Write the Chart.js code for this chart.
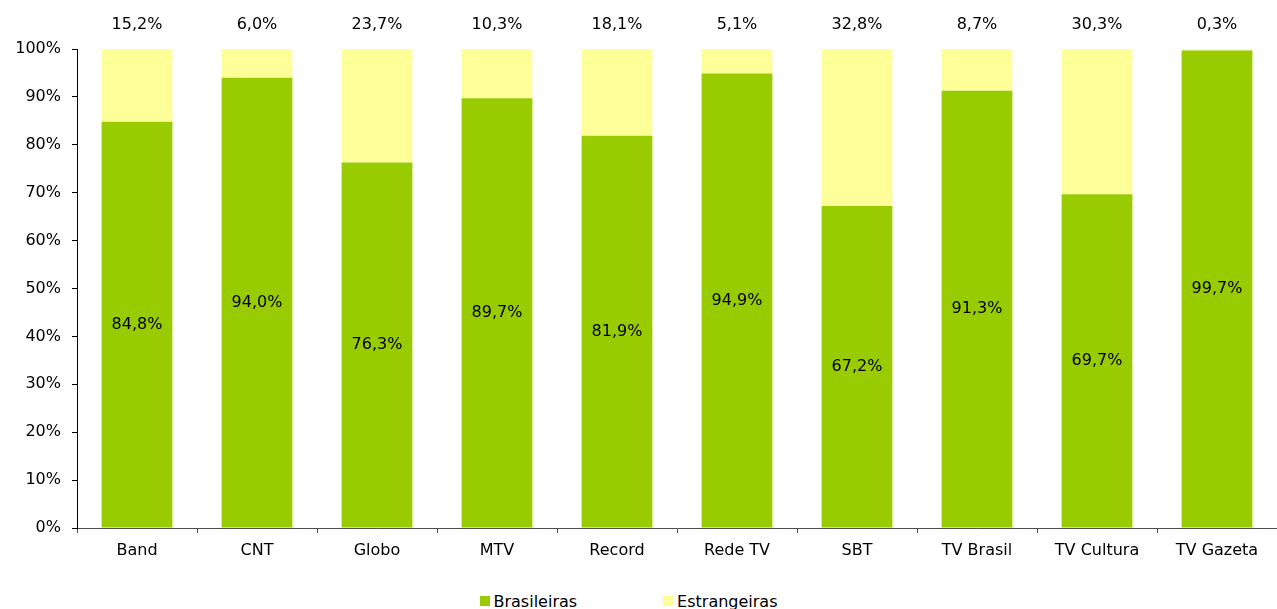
<!DOCTYPE html>
<html>
<head>
  <title>Brasileiras x Estrangeiras</title>
  <script src="https://cdn.jsdelivr.net/npm/chart.js"></script>
  <style>
    html, body {
      margin: 0;
      padding: 0;
      background: #fff;
      overflow: hidden;
    }
    #wrap {
      width: 1277px;
      height: 585px;
      position: relative;
    }
    #legend {
      width: 1277px;
      height: 32px;
      display: flex;
      justify-content: center;
      align-items: center;
      gap: 86px;
      padding-right: 20px;
      box-sizing: border-box;
      font-family: "DejaVu Sans", Verdana, sans-serif;
      font-size: 16px;
      color: #000;
    }
    .item {
      display: flex;
      align-items: center;
    }
    .box {
      width: 10px;
      height: 10px;
      margin-right: 4px;
    }
  </style>
</head>
<body>
  <div id="wrap"><canvas id="chart"></canvas></div>
  <div id="legend"></div>

  <script>
    var categories = ["Band", "CNT", "Globo", "MTV", "Record", "Rede TV", "SBT", "TV Brasil", "TV Cultura", "TV Gazeta"];
    var brasileiras = [84.8, 94.0, 76.3, 89.7, 81.9, 94.9, 67.2, 91.3, 69.7, 99.7];
    var estrangeiras = [15.2, 6.0, 23.7, 10.3, 18.1, 5.1, 32.8, 8.7, 30.3, 0.3];
    var seriesNames = ["Brasileiras", "Estrangeiras"];
    var seriesColors = ["#99CC00", "#FFFF99"];
    var yTicks = [0, 10, 20, 30, 40, 50, 60, 70, 80, 90, 100];

    function pct(v) {
      return v.toFixed(1).replace(".", ",") + "%";
    }

    Chart.defaults.font.family = "'DejaVu Sans', Verdana, sans-serif";
    Chart.defaults.font.size = 16;
    Chart.defaults.color = "#000";

    // rótulos dos valores
    var valueLabels = {
      id: "valueLabels",
      afterDatasetsDraw: function(chart) {
        var ctx = chart.ctx;
        ctx.save();
        ctx.font = "16px 'DejaVu Sans', Verdana, sans-serif";
        ctx.fillStyle = "#000";
        ctx.textAlign = "center";
        ctx.textBaseline = "middle";
        chart.getDatasetMeta(0).data.forEach(function(bar, i) {
          ctx.fillText(pct(brasileiras[i]), bar.x, (bar.y + bar.base) / 2);
        });
        chart.getDatasetMeta(1).data.forEach(function(bar, i) {
          ctx.fillText(pct(estrangeiras[i]), bar.x, chart.chartArea.top - 24);
        });
        ctx.restore();
      }
    };

    var ctx = document.getElementById("chart").getContext("2d");
    var chart = new Chart(ctx, {
      type: "bar",
      data: {
        labels: categories,
        datasets: [{
          label: seriesNames[0],
          data: brasileiras,
          backgroundColor: seriesColors[0],
          borderWidth: 0,
          barPercentage: 0.59,
          categoryPercentage: 1
        }, {
          label: seriesNames[1],
          data: estrangeiras,
          backgroundColor: seriesColors[1],
          borderWidth: 0,
          barPercentage: 0.59,
          categoryPercentage: 1
        }]
      },
      options: {
        responsive: true,
        maintainAspectRatio: false,
        animation: false,
        layout: {
          padding: { top: 49, left: 0, right: 0, bottom: 0 }
        },
        plugins: {
          legend: { display: false },
          tooltip: { enabled: false }
        },
        scales: {
          x: {
            stacked: true,
            afterFit: function(scale) { scale.height = 57; },
            grid: {
              offset: true,
              drawOnChartArea: false,
              tickLength: 5,
              color: "#4d4d4d"
            },
            border: { color: "#4d4d4d" },
            ticks: { padding: 8 }
          },
          y: {
            stacked: true,
            min: 0,
            max: 100,
            afterFit: function(scale) { scale.width = 77; },
            afterBuildTicks: function(scale) {
              scale.ticks = yTicks.map(function(v) { return { value: v }; });
            },
            grid: {
              drawOnChartArea: false,
              tickLength: 5,
              color: "#000"
            },
            border: { color: "#000" },
            ticks: {
              padding: 11,
              callback: function(v) { return v + "%"; }
            }
          }
        }
      },
      plugins: [valueLabels]
    });

    var legend = document.getElementById("legend");
    seriesNames.forEach(function(name, i) {
      var item = document.createElement("div");
      item.className = "item";
      var box = document.createElement("span");
      box.className = "box";
      box.style.background = seriesColors[i];
      item.appendChild(box);
      item.appendChild(document.createTextNode(name));
      legend.appendChild(item);
    });
  </script>
</body>
</html>
